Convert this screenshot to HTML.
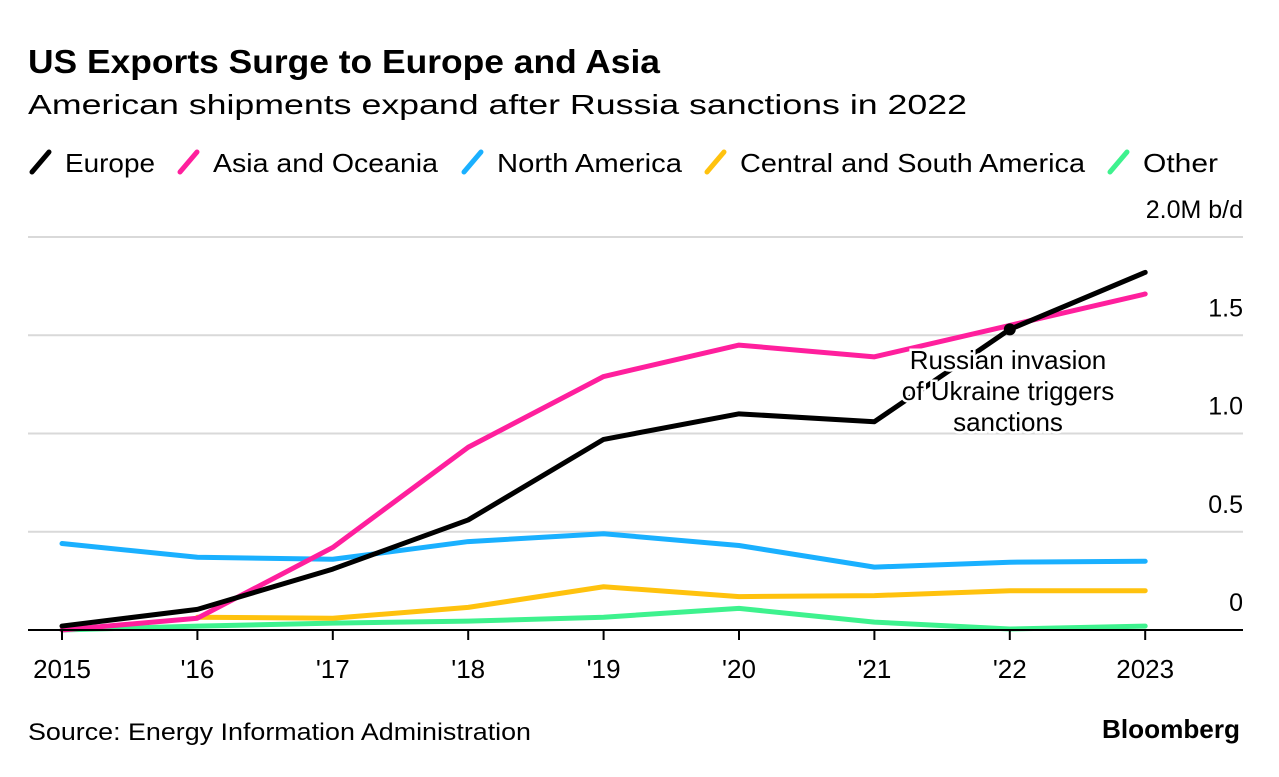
<!DOCTYPE html>
<html><head><meta charset="utf-8"><style>
body{margin:0;background:#fff;width:1279px;height:772px;overflow:hidden;font-family:"Liberation Sans",sans-serif;}
svg text{font-family:"Liberation Sans",sans-serif;}
</style></head><body>
<svg id="chart" width="1279" height="772">
<text x="28" y="73" font-size="33" font-weight="bold" fill="#000" textLength="632" lengthAdjust="spacingAndGlyphs">US Exports Surge to Europe and Asia</text>
<text x="28" y="114" font-size="28" fill="#000" textLength="939" lengthAdjust="spacingAndGlyphs">American shipments expand after Russia sanctions in 2022</text>
<g id="legend"></g>
<g id="grid"></g>
<g id="series"></g>
<g id="xaxis"></g>
<g id="annot"></g>
<text x="28" y="740" font-size="24" fill="#000" textLength="503" lengthAdjust="spacingAndGlyphs">Source: Energy Information Administration</text>
<text x="1240" y="738" font-size="26" font-weight="bold" text-anchor="end" fill="#000" textLength="138" lengthAdjust="spacingAndGlyphs">Bloomberg</text>
</svg>
<script>
const categories=["2015","'16","'17","'18","'19","'20","'21","'22","2023"];
const europe=[0.02,0.105,0.31,0.56,0.97,1.1,1.06,1.53,1.82];
const asia=[0,0.06,0.42,0.93,1.29,1.45,1.39,1.55,1.71];
const northAmerica=[0.44,0.37,0.36,0.45,0.49,0.43,0.32,0.345,0.35];
const centralSouth=[null,0.065,0.06,0.115,0.22,0.17,0.175,0.2,0.2];
const other=[0,0.02,0.035,0.045,0.065,0.11,0.04,0.005,0.02];
const yTicks=[0,0.5,1.0,1.5,2.0];
const yTickLabels=["0","0.5","1.0","1.5","2.0M b/d"];
const seriesNames=["Europe","Asia and Oceania","North America","Central and South America","Other"];
const seriesColors=["#000000","#ff1f9d","#1ab0ff","#ffc20e","#3ef28e"];
const seriesData=[other,centralSouth,northAmerica,asia,europe];
const seriesOrderColors=["#3ef28e","#ffc20e","#1ab0ff","#ff1f9d","#000000"];
const annotationIndex=7;

const NS="http://www.w3.org/2000/svg";
function X(i){return 62+i*135.4;}
function Y(v){return 630-v*196.5;}
function mk(tag,attrs,parent,text){const e=document.createElementNS(NS,tag);for(const k in attrs)e.setAttribute(k,attrs[k]);if(text!==undefined)e.textContent=text;parent.appendChild(e);return e;}

const grid=document.getElementById('grid');
yTicks.forEach((t,i)=>{
  if(t>0){const l=mk('line',{x1:28,x2:1243,y1:Y(t),y2:Y(t),stroke:'#d9d9d9','stroke-width':2},grid);
  
  }
  const tx=mk('text',{x:1243,y:Y(t)-19,'font-size':25,'text-anchor':'end',fill:'#000'},grid,yTickLabels[i]);
  
  
});

const ser=document.getElementById('series');
seriesData.forEach((d,si)=>{
  let p='';d.forEach((v,i)=>{if(v===null)return;p+=(p?'L':'M')+X(i)+','+Y(v);});
  const path=mk('path',{d:p,fill:'none',stroke:seriesOrderColors[si],'stroke-width':5,'stroke-linejoin':'round','stroke-linecap':'round'},ser);
  
  
});

const xa=document.getElementById('xaxis');
const ax=mk('line',{x1:28,x2:1243,y1:630,y2:630,stroke:'#000','stroke-width':2},xa);


categories.forEach((c,i)=>{
  const tk=mk('line',{x1:X(i),x2:X(i),y1:630,y2:640,stroke:'#000','stroke-width':2},xa);
  
  
  const t=mk('text',{x:X(i),y:678,'font-size':26,'text-anchor':'middle',fill:'#000'},xa,c);
  
  
});

const lg=document.getElementById('legend');
const legX=[28,176,460,703,1106];
const legTextX=[65,213,497,740,1143];
const legW=[90,225,185,345,75];
seriesNames.forEach((n,i)=>{
  const s=mk('line',{x1:legX[i]+4,y1:172,x2:legX[i]+21,y2:152,stroke:seriesColors[i],'stroke-width':5,'stroke-linecap':'round'},lg);
  
  
  const t=mk('text',{x:legTextX[i],y:172,'font-size':26,fill:'#000',textLength:legW[i],lengthAdjust:'spacingAndGlyphs'},lg,n);
  
  
});

const an=document.getElementById('annot');
const dot=mk('circle',{cx:X(annotationIndex),cy:Y(europe[annotationIndex]),r:6,fill:'#000'},an);


["Russian invasion","of Ukraine triggers","sanctions"].forEach((s,i)=>{
  const t=mk('text',{x:1008,y:369+i*31,'font-size':26,'text-anchor':'middle',fill:'#000',stroke:'#fff','stroke-width':5,'paint-order':'stroke'},an,s);
  
  
});
</script>
</body></html>
